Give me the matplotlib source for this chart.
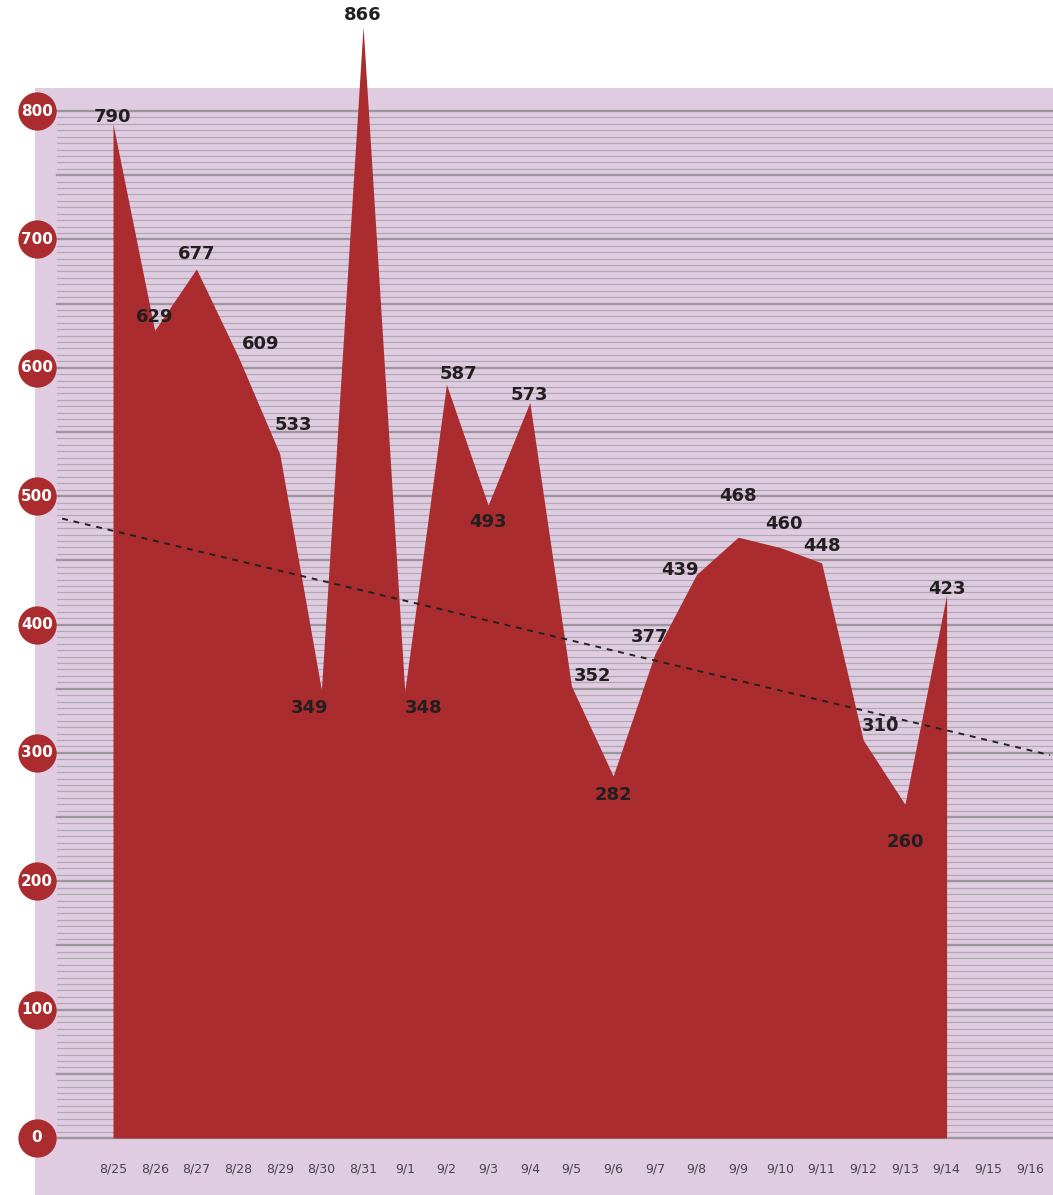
import matplotlib.pyplot as plt
import matplotlib.transforms as mtransforms
from matplotlib.patches import Rectangle

# data
dates = ["8/25", "8/26", "8/27", "8/28", "8/29", "8/30", "8/31", "9/1", "9/2", "9/3",
         "9/4", "9/5", "9/6", "9/7", "9/8", "9/9", "9/10", "9/11", "9/12", "9/13",
         "9/14", "9/15", "9/16"]
values = [790, 629, 677, 609, 533, 349, 866, 348, 587, 493,
          573, 352, 282, 377, 439, 468, 460, 448, 310, 260, 423]
y_ticks = [0, 100, 200, 300, 400, 500, 600, 700, 800]
trend = [473, 302]  # trend value at 8/25 and at 9/16

# label offsets (pixels, from the point)
label_offsets = [(0, 7), (0, 14), (0, 15), (23, 12), (14, 29), (-12, -18), (0, 11),
                 (19, -17), (12, 10), (0, -17), (0, 7), (21, 10), (0, -19), (-5, 17),
                 (-17, 4), (0, 41), (4, 23), (0, 17), (17, 14), (0, -38), (0, 6)]

red = "#aa2c2e"
bg = "#dfcce1"

fig = plt.figure(figsize=(10.53, 11.95), dpi=100)
ax = fig.add_axes([0, 0, 1, 1])
ax.axis("off")

# 800 -> y px 111, 0 -> y px 1138 ; first date at x px 113, step 41.68 px
px_per_unit = 1027 / 800
step = 41.68
ax.set_xlim(-113 / step, (1053 - 113) / step)
ax.set_ylim(-(1195 - 1138) / px_per_unit, 1138 / px_per_unit)

# background panel
ax.add_patch(Rectangle((35 / 1053, 0), 1, 1 - 88 / 1195, transform=ax.transAxes,
                       facecolor=bg, edgecolor="none", zorder=0))

# grid lines
for v in range(0, 801, 5):
    if v % 50 == 0:
        ax.axhline(v, xmin=57 / 1053, xmax=1, color="#9c959d", lw=1.7, zorder=1)
    else:
        ax.axhline(v, xmin=57 / 1053, xmax=1, color="#b0a8b3", lw=0.9, zorder=1)

x = list(range(len(values)))
ax.fill_between(x, values, 0, color=red, lw=0, zorder=2)

# trend line
n = len(dates) - 1
slope = (trend[1] - trend[0]) / n
x0, x1 = ax.get_xlim()
xs = [-1.22, x1 - 0.07]
ax.plot(xs, [trend[0] + slope * xx for xx in xs], color="#222222", lw=1.4,
        dashes=(3, 3), zorder=3)

# data labels
for i, v in enumerate(values):
    dx, dy = label_offsets[i]
    ax.annotate(str(v), (i, v), xytext=(dx, dy), textcoords="offset pixels",
                ha="center", va="center", fontsize=13, fontweight="bold",
                color="#231f20", zorder=4)

# x labels
tx = mtransforms.blended_transform_factory(ax.transData, ax.transAxes)
for i, d in enumerate(dates):
    ax.text(i, 1 - 1169 / 1195, d, transform=tx, ha="center", va="center",
            fontsize=9, color="#48444a")

# y labels in red circles
ty = mtransforms.blended_transform_factory(ax.transAxes, ax.transData)
ax.scatter([37 / 1053] * len(y_ticks), y_ticks, s=760, color=red, transform=ty,
           zorder=5, clip_on=False, linewidths=0)
for t in y_ticks:
    ax.text(37 / 1053, t, str(t), transform=ty, ha="center", va="center",
            fontsize=11, fontweight="bold", color="white", zorder=6)

fig.savefig("out.png", dpi=100)
